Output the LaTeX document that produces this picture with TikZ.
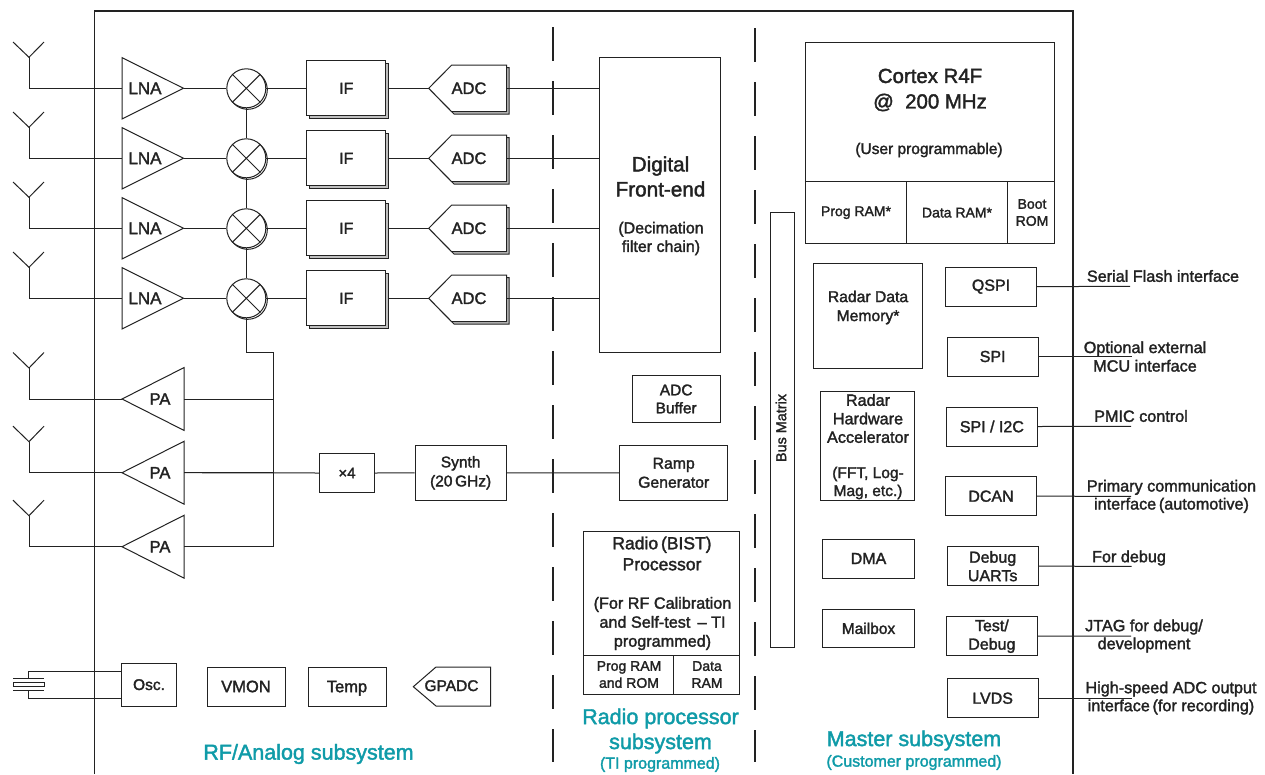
\documentclass[tikz,border=0pt]{standalone}
\usepackage{fontspec}
\setmainfont{Liberation Sans}
\newfontfamily\medfont[FakeBold=1.8]{Liberation Sans}
\usetikzlibrary{shadows,calc}
\definecolor{ink}{HTML}{222222}
\definecolor{teal2}{HTML}{0F9BA8}
\newcommand{\fs}[2]{\fontsize{#1}{#2}\selectfont\medfont}
\tikzset{
  x=1pt,y=-1pt,
  wire/.style={draw=ink,line width=1pt},
  shapeline/.style={draw=ink,line width=1pt,fill=white,line join=miter},
  frameline/.style={draw=ink,line width=1.9pt},
  dashline/.style={draw=ink,line width=1.9pt,dash pattern=on 34pt off 20pt},
  box/.style={shapeline,rectangle,inner sep=0pt,align=center,text=ink,font=\fs{16}{18.5}},
  txt/.style={inner sep=0pt,align=center,text=ink,font=\fs{16}{18.5}},
  stack/.style={box,copy shadow={shadow xshift=2.5pt,shadow yshift=-2.5pt,draw=ink,fill=gray!50,line width=1pt}},
  title/.style={inner sep=0pt,align=center,text=teal2,font=\fs{21.5}{25}},
  subtitle/.style={inner sep=0pt,align=center,text=teal2,font=\fs{16}{18}},
  mixer/.style={circle,shapeline,inner sep=0pt,minimum size=39pt},
}
% \bx{name}{x1}{y1}{x2}{y2}{options}{text}
\newcommand{\bx}[7]{\node[box,minimum width=#4pt-#2pt,minimum height=#5pt-#3pt,#6] (#1) at ({(#2+#4)/2},{(#3+#5)/2}) {#7};}
\begin{document}
\begin{tikzpicture}
\useasboundingbox (0,0) rectangle (1265,774);
\fill[white] (0,0) rectangle (1265,774);
% subsystem separators and chip outline
\coordinate (dashAtop) at (553,27); \coordinate (dashAbot) at (553,762);
\coordinate (dashBtop) at (755,28); \coordinate (dashBbot) at (755,762);
\draw[dashline] (dashAtop) -- (dashAbot);
\draw[dashline] (dashBtop) -- (dashBbot);
\coordinate (frameBL) at (94.5,774); \coordinate (frameTL) at (94.5,10.7);
\coordinate (frameTR) at (1073,10.7); \coordinate (frameBR) at (1073,774);
\draw[frameline] (frameBL) -- (frameTL) -- (frameTR) -- (frameBR);
% Digital front-end
\bx{dfe}{599.5}{57.3}{720}{352.5}{}{}
\node[txt,font=\fs{20.7}{25}] (dfeT) at (660.5,176.5) {Digital\\Front-end};
\node[txt,font=\fs{16}{18.5}] (dfeS) at (661,238.5) {(Decimation\\filter chain)};
% Receive chains
\foreach \i/\y in {1/88.3,2/158.3,3/228.3,4/298.3}{
  \coordinate (antL\i) at (13,\y-46.3);
  \coordinate (antR\i) at (44,\y-46.3);
  \coordinate (antJ\i) at (29,\y-31);
  \coordinate (lnaIn\i) at (122,\y);
  \coordinate (lnaOut\i) at (183.5,\y);
  \draw[wire] (antL\i) -- (antJ\i) -- (antR\i);
  \draw[wire] (antJ\i) |- (lnaIn\i);
  \path[shapeline] (lnaIn\i) ++(0,-30.7) -- (lnaOut\i) -- ($(lnaIn\i)+(0,30.7)$) -- cycle;
  \node[txt,font=\fs{17}{20}] (lnaT\i) at (145,\y) {LNA};
  \draw[shapeline] (247.8,\y+1.5) circle (19.5);
  \node[mixer] (mix\i) at (246.3,\y) {};
  \draw[wire] (mix\i.45) -- (mix\i.225) (mix\i.135) -- (mix\i.-45);
  \draw[wire] (lnaOut\i) -- (mix\i.west);
  \node[stack,minimum width=79.3pt,minimum height=54.7pt] (if\i) at (346.3,\y) {IF};
  \draw[wire] (mix\i.east) -- (if\i.west);
  \coordinate (adcIn\i) at (428.7,\y);
  \coordinate (adcOut\i) at (506.7,\y);
  \path[shapeline,fill=gray!50] (431.2,\y+2.5) -- (454.2,\y-20.8) -- (509.2,\y-20.8) -- (509.2,\y+25.9) -- (454.2,\y+25.9) -- cycle;
  \path[shapeline] (adcIn\i) -- (451.7,\y-23.3) -- (506.7,\y-23.3) -- (506.7,\y+23.4) -- (451.7,\y+23.4) -- cycle;
  \node[txt,font=\fs{16.5}{19}] (adcT\i) at (469,\y) {ADC};
  \draw[wire] (if\i.east) ++(2.5,0) -- (adcIn\i);
  \draw[wire] (adcOut\i) -- (adcOut\i -| dfe.west);
}
\draw[wire] (mix1.south) -- (mix2.north) (mix2.south) -- (mix3.north) (mix3.south) -- (mix4.north);
% Transmit chains
\coordinate (busTop) at (273.3,352.7);
\coordinate (busBot) at (273.3,546.7);
\foreach \i/\y in {1/399,2/472.7,3/546.7}{
  \coordinate (tantL\i) at (13,\y-46.5);
  \coordinate (tantR\i) at (44,\y-46.5);
  \coordinate (tantJ\i) at (29,\y-31);
  \coordinate (paOut\i) at (122,\y);
  \coordinate (paIn\i) at (184,\y);
  \draw[wire] (tantL\i) -- (tantJ\i) -- (tantR\i);
  \draw[wire] (tantJ\i) |- (paOut\i);
  \path[shapeline] (paOut\i) -- ($(paIn\i)+(0,-31.4)$) -- ($(paIn\i)+(0,31.4)$) -- cycle;
  \node[txt,font=\fs{16.5}{19}] (paT\i) at (160,\y) {PA};
  \draw[wire] (paIn\i) -- (paIn\i -| busTop);
}
\draw[wire] (mix4.south) |- (busTop) -- (busBot);
% Synthesiser chain
\bx{x4}{319.7}{453.7}{374.3}{492.3}{font=\fs{15}{18}}{×4}
\bx{synth}{415}{445.7}{506.3}{500}{font=\fs{15.5}{19}}{Synth\\(20\,GHz)}
\bx{ramp}{619.7}{445.7}{727.7}{500}{font=\fs{15.8}{19}}{Ramp\\Generator}
\bx{adcbuf}{632.3}{375.7}{720}{422.3}{font=\fs{15.5}{18}}{ADC\\Buffer}
\draw[wire] (paIn2) -- (x4.west) (x4.east) -- (synth.west) (synth.east) -- (ramp.west);
% Oscillator and housekeeping
\bx{osc}{121.7}{663.3}{176.3}{706}{font=\fs{15.5}{18}}{Osc.}
\bx{vmon}{207}{667}{285}{706}{font=\fs{16.5}{19}}{VMON}
\bx{temp}{308}{667}{386}{706}{font=\fs{16.5}{19},text depth=0pt}{Temp}
\coordinate (xtalT) at (28.7,678.3);
\coordinate (xtalB) at (28.7,690.7);
\draw[wire] (osc.west |- 0,671) -| (xtalT);
\draw[wire] (osc.west |- 0,698.3) -| (xtalB);
\draw[wire] (13,678.3) -- (44,678.3) (13,690.7) -- (44,690.7);
\draw[wire] (13,682) rectangle (44,686.7);
\coordinate (gpTip) at (413.3,686.7);
\path[shapeline] (gpTip) -- (436,667) -- (490.7,667) -- (490.7,706) -- (436,706) -- cycle;
\node[txt,font=\fs{15.5}{18}] (gpT) at (451.5,685.7) {GPADC};
% Radio processor
\bx{radio}{583.7}{531.3}{739.3}{694.3}{}{}
\draw[wire] (radio.west |- 0,655.3) -- (radio.east |- 0,655.3);
\draw[wire] (673.3,655.3) -- (673.3,694.3);
\node[txt,font=\fs{17.5}{21}] (radioT) at (662,553.5) {Radio\,(BIST)\\Processor};
\node[txt,font=\fs{16.2}{19}] (radioS) at (662.5,623.5) {(For RF Calibration\\and Self-test\, – TI\\programmed)};
\node[txt,font=\fs{14}{17}] (radioP) at (629,674.5) {Prog RAM\\and ROM};
\node[txt,font=\fs{14}{17}] (radioD) at (707,674.5) {Data\\RAM};
% Bus
\bx{bus}{770.7}{212.7}{794}{647.3}{}{}
\node[txt,font=\fs{14.4}{17},rotate=90] (busT) at (781,428) {Bus Matrix};
% Cortex
\bx{cortex}{805.3}{42}{1054.3}{243.7}{}{}
\draw[wire] (cortex.west |- 0,181.3) -- (cortex.east |- 0,181.3);
\draw[wire] (906.3,181.3) -- (906.3,243.7) (1007,181.3) -- (1007,243.7);
\node[txt,font=\fs{20.4}{25.5}] (cortexT) at (930,90) {Cortex R4F\\@\ \ 200 MHz};
\node[txt,font=\fs{15.5}{18}] (cortexS) at (929,150) {(User programmable)};
\node[txt,font=\fs{14}{17}] (progT) at (856,212.7) {Prog RAM*};
\node[txt,font=\fs{14}{17}] (dataT) at (957,212.7) {Data RAM*};
\node[txt,font=\fs{14}{17}] (bootT) at (1032,212.5) {Boot\\ROM};
% Master blocks
\bx{rdm}{813}{263}{922}{368}{}{}
\node[txt,font=\fs{15.7}{19}] (rdmT) at (868,307.5) {Radar Data\\Memory*};
\bx{hwa}{820.7}{391.3}{914.3}{500}{}{}
\node[txt,font=\fs{16.2}{18.5}] (hwaT) at (868,418.5) {Radar\\Hardware\\Accelerator};
\node[txt,font=\fs{15.5}{18}] (hwaS) at (868,483) {(FFT, Log-\\Mag, etc.)};
\bx{dma}{822.7}{539}{914.3}{578}{}{DMA}
\bx{mail}{822.7}{609}{914.3}{647.7}{font=\fs{15.5}{18}}{Mailbox}
% Interfaces
\bx{qspi}{945.3}{267.3}{1036.7}{306}{}{QSPI}
\bx{spi}{947}{337}{1038.3}{376}{}{SPI}
\bx{spii}{946}{407}{1037.7}{446}{}{SPI / I2C}
\bx{dcan}{945.3}{476.7}{1036.7}{515.7}{}{DCAN}
\bx{uart}{947}{546.7}{1038.3}{585.7}{}{Debug\\UARTs}
\bx{test}{946}{616.7}{1037.7}{655.7}{}{Test/\\Debug}
\bx{lvds}{947}{678.7}{1038.3}{717.7}{}{LVDS}
\coordinate (qspiEnd) at (1130,286.3);
\coordinate (spiEnd) at (1131.7,356.5);
\coordinate (spiiEnd) at (1131,426.3);
\coordinate (dcanEnd) at (1131,496.3);
\coordinate (uartEnd) at (1131.7,566.3);
\coordinate (testEnd) at (1131,636);
\coordinate (lvdsEnd) at (1131.7,698.2);
\foreach \n in {qspi,spi,spii,dcan,uart,test,lvds}{
  \draw[wire] (\n.east) -- (\n End);
}
\node[txt,font=\fs{16.2}{18}] (qspiL) at (1163,276) {Serial Flash interface};
\node[txt,font=\fs{16.2}{18.5}] (spiL) at (1145,356.5) {Optional external\\MCU interface};
\node[txt,font=\fs{16.2}{18}] (spiiL) at (1141,416) {PMIC control};
\node[txt,font=\fs{16.2}{18}] (dcanL) at (1171.5,496.3) {Primary communication\\interface\,(automotive)};
\node[txt,font=\fs{16.2}{18}] (uartL) at (1129,558) {For debug};
\node[txt,font=\fs{16.2}{18}] (testL) at (1144,636) {JTAG for debug/\\development};
\node[txt,font=\fs{16.2}{18}] (lvdsL) at (1171,698) {High-speed ADC output\\interface\,(for recording)};
% Titles
\node[title] (rfT) at (308.5,754) {RF/Analog subsystem};
\node[title] (radioTi) at (660.5,731) {Radio processor\\subsystem};
\node[subtitle] (radioSu) at (660,764.5) {(TI programmed)};
\node[title] (masterT) at (914,740.5) {Master subsystem};
\node[subtitle] (masterS) at (914,762.5) {(Customer programmed)};
\end{tikzpicture}
\end{document}
